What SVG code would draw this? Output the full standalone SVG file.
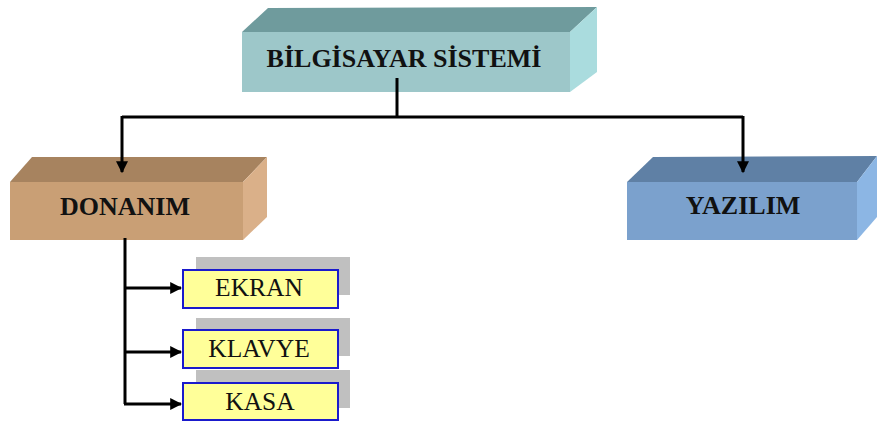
<svg xmlns="http://www.w3.org/2000/svg" width="879" height="421" viewBox="0 0 879 421">
<style>
.t{font-family:"Liberation Serif","Times New Roman",serif;fill:#111;text-anchor:middle}
.b{font-weight:bold}
.line{stroke:#000;stroke-width:3;fill:none}
.leaf{fill:#ffff99;stroke:#1a1acc;stroke-width:2}
.sh{fill:#c0c0c0}
</style>
<defs>
<marker id="ah" viewBox="0 0 10 10" refX="9" refY="5" markerWidth="4" markerHeight="4" orient="auto" markerUnits="strokeWidth">
<path d="M0,0 L10,5 L0,10 Z" fill="#000"/>
</marker>
</defs>
<rect width="879" height="421" fill="#fff"/>
<g id="bilgisayar">
<polygon points="242,32 268,8 597,7 570,32" fill="#6f9b9d"/>
<polygon points="570,32 597,7 597,72 570,92" fill="#aadcde"/>
<rect x="242" y="32" width="328" height="60" fill="#9dc7c9"/>
<text class="t b" x="404" y="67" font-size="26">BİLGİSAYAR SİSTEMİ</text>
</g>
<g id="donanim">
<polygon points="10,182 32,157 267,157 243,182" fill="#a7835f"/>
<polygon points="243,182 267,157 267,217 243,240" fill="#dab089"/>
<rect x="10" y="182" width="233" height="58" fill="#c99f75"/>
<text class="t b" x="125" y="215" font-size="26">DONANIM</text>
</g>
<g id="yazilim">
<polygon points="627,182 653,157 877,156 857,182" fill="#5f80a5"/>
<polygon points="857,182 877,156 877,217 857,240" fill="#8cb6e4"/>
<rect x="627" y="182" width="230" height="58" fill="#7ba1cd"/>
<text class="t b" x="743" y="214" font-size="26">YAZILIM</text>
</g>
<g id="ekran">
<rect class="sh" x="196" y="257" width="154" height="38"/>
<rect class="leaf" x="183" y="270" width="155" height="38"/>
<text class="t" x="259" y="296" font-size="25.5">EKRAN</text>
</g>
<g id="klavye">
<rect class="sh" x="196" y="318" width="154" height="38"/>
<rect class="leaf" x="183" y="330" width="155" height="38"/>
<text class="t" x="259" y="357" font-size="25.5">KLAVYE</text>
</g>
<g id="kasa">
<rect class="sh" x="196" y="370" width="154" height="38"/>
<rect class="leaf" x="183" y="383" width="155" height="37"/>
<text class="t" x="260" y="410" font-size="25.5">KASA</text>
</g>
<g id="connectors">
<path class="line" d="M397,78 V117"/>
<path class="line" d="M122,117 H743"/>
<path class="line" d="M122,116 V172" marker-end="url(#ah)"/>
<path class="line" d="M743,116 V172" marker-end="url(#ah)"/>
<path class="line" d="M125,238 V404"/>
<path class="line" d="M124,288 H181" marker-end="url(#ah)"/>
<path class="line" d="M124,352 H181" marker-end="url(#ah)"/>
<path class="line" d="M124,404 H181" marker-end="url(#ah)"/>
</g>
</svg>
